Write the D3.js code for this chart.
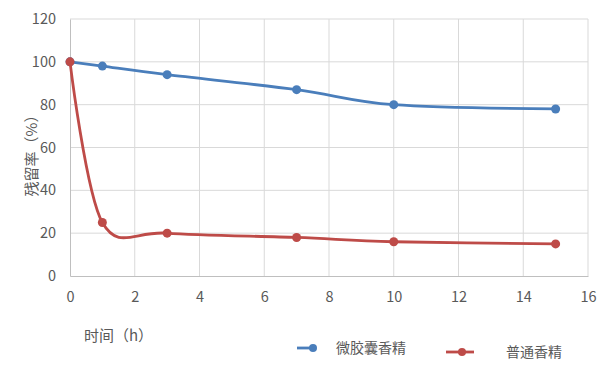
<!DOCTYPE html>
<html>
<head>
	<script src="https://cdn.jsdelivr.net/npm/d3@7"></script>
	<style>
		html, body { padding: 0; margin: 0; background: #fff; }
		text { font-family: "Noto Sans CJK SC", "Noto Sans", sans-serif; fill: #595959; }
	</style>
</head>
<body>
	<script>
		var width = 610, height = 366;

		// data
		var hours = [0, 1, 3, 7, 10, 15];
		var microcapsule = [100, 98, 94, 87, 80, 78];
		var ordinary = [100, 25, 20, 18, 16, 15];
		var xTicks = [0, 2, 4, 6, 8, 10, 12, 14, 16];
		var yTicks = [0, 20, 40, 60, 80, 100, 120];
		var seriesNames = ['微胶囊香精', '普通香精'];
		var colors = ['#4a7ebb', '#be4b48'];

		var svg = d3.select('body').append('svg')
			.attr('width', width)
			.attr('height', height);

		var x = d3.scaleLinear().domain([0, 16]).range([70, 588]);
		var y = d3.scaleLinear().domain([0, 120]).range([276, 19]);

		// grid
		svg.append('g').selectAll('line').data(xTicks.slice(1)).enter().append('line')
			.attr('x1', d => x(d)).attr('x2', d => x(d))
			.attr('y1', y(0)).attr('y2', y(120))
			.attr('stroke', '#d9d9d9');
		svg.append('g').selectAll('line').data(yTicks.slice(1)).enter().append('line')
			.attr('x1', x(0)).attr('x2', x(16))
			.attr('y1', d => y(d)).attr('y2', d => y(d))
			.attr('stroke', '#d9d9d9');

		// axes
		var xAxis = svg.append('g').attr('transform', 'translate(0,' + y(0) + ')')
			.call(d3.axisBottom(x).tickValues(xTicks).tickSize(0).tickPadding(16));
		var yAxis = svg.append('g').attr('transform', 'translate(' + x(0) + ',0)')
			.call(d3.axisLeft(y).tickValues(yTicks).tickSize(0).tickPadding(14));
		[xAxis, yAxis].forEach(function(a) {
			a.select('.domain').attr('stroke', '#bfbfbf');
			a.selectAll('text').style('font-size', '14.5px').attr('fill', '#595959');
		});

		// axis titles
		svg.append('text')
			.attr('transform', 'translate(37,152) rotate(-90)')
			.attr('text-anchor', 'middle')
			.style('font-size', '15px')
			.text('残留率（%）');
		svg.append('text')
			.attr('x', 84).attr('y', 341)
			.style('font-size', '15px')
			.text('时间（h）');

		var line = d3.line()
			.x(d => x(d[0])).y(d => y(d[1]))
			.curve(d3.curveCardinal.tension(0));

		[microcapsule, ordinary].forEach(function(vals, i) {
			var pts = hours.map((h, j) => [h, vals[j]]);
			svg.append('path')
				.datum(pts)
				.attr('d', line)
				.attr('fill', 'none')
				.attr('stroke', colors[i])
				.attr('stroke-width', 2.8);
			svg.append('g').selectAll('circle').data(pts).enter().append('circle')
				.attr('cx', d => x(d[0])).attr('cy', d => y(d[1]))
				.attr('r', 4.5)
				.attr('fill', colors[i]);
		});

		// legend
		var legend = [
			{ x1: 297, x2: 316, cx: 313, tx: 336, ty: 353 },
			{ x1: 446, x2: 474, cx: 462, tx: 506, ty: 357 }
		];
		legend.forEach(function(l, i) {
			var cy = l.ty - 5;
			svg.append('line')
				.attr('x1', l.x1).attr('x2', l.x2)
				.attr('y1', cy).attr('y2', cy)
				.attr('stroke', colors[i]).attr('stroke-width', 2.8);
			svg.append('circle').attr('cx', l.cx).attr('cy', cy).attr('r', 4).attr('fill', colors[i]);
			svg.append('text').attr('x', l.tx).attr('y', l.ty)
				.style('font-size', '14px')
				.text(seriesNames[i]);
		});
	</script>
</body>
</html>
